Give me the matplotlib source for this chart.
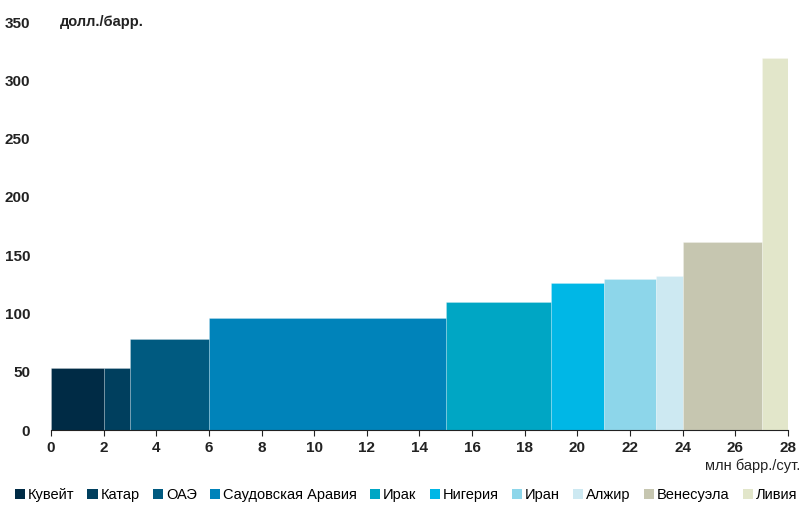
import matplotlib.pyplot as plt
from matplotlib.patches import Patch

countries = ['Кувейт', 'Катар', 'ОАЭ', 'Саудовская Аравия', 'Ирак',
             'Нигерия', 'Иран', 'Алжир', 'Венесуэла', 'Ливия']
volumes = [2, 1, 3, 9, 4, 2, 2, 1, 3, 1]          # млн барр./сут.
prices = [53, 53, 78, 96, 110, 126, 130, 132, 161, 319]   # долл./барр.
colors = ['#002B45', '#003F5E', '#005A80', '#0083BA', '#00A6C4',
          '#00B7E6', '#8DD6EA', '#CDE9F2', '#C6C6B0', '#E2E6CA']

plt.rcParams['font.family'] = ['Liberation Sans', 'DejaVu Sans']

fig = plt.figure(figsize=(8.01, 5.05), dpi=100)
ax = fig.add_axes([0.0637, 0.1485, 0.92, 0.8075])

left = 0
for w, h, c in zip(volumes, prices, colors):
    ax.bar(left, h, width=w, align='edge', color=c,
           edgecolor=(1, 1, 1, 0.25), linewidth=0.6)
    left += w

ax.set_xlim(0, 28)
ax.set_ylim(0, 350)
ax.set_xticks(range(0, 29, 2))
ax.set_yticks(range(0, 351, 50))
for s in ['top', 'right', 'left']:
    ax.spines[s].set_visible(False)
ax.spines['bottom'].set_color('#222222')
ax.tick_params(axis='y', length=0, pad=15, labelsize=11, labelcolor='#222222')
ax.tick_params(axis='x', length=4, direction='out', color='#222222',
               labelsize=11, labelcolor='#222222', pad=4)
for lb in ax.get_xticklabels() + ax.get_yticklabels():
    lb.set_fontweight('bold')

fig.text(60 / 801, 1 - 22 / 505, 'долл./барр.', fontsize=10.5, fontweight='bold',
         va='center', ha='left', color='#222222')
fig.text(800 / 801, 1 - 466 / 505, 'млн барр./сут.', fontsize=10.5,
         va='center', ha='right', color='#222222')

handles = [Patch(facecolor=c, edgecolor='none') for c in colors]
fig.legend(handles, countries, loc='center', bbox_to_anchor=(406 / 801, 1 - 495 / 505),
           ncol=10, frameon=False, fontsize=10.5, handlelength=0.7, handleheight=0.7,
           handletextpad=0.2, columnspacing=0.9, borderaxespad=0)

fig.savefig('out.png', dpi=100)
